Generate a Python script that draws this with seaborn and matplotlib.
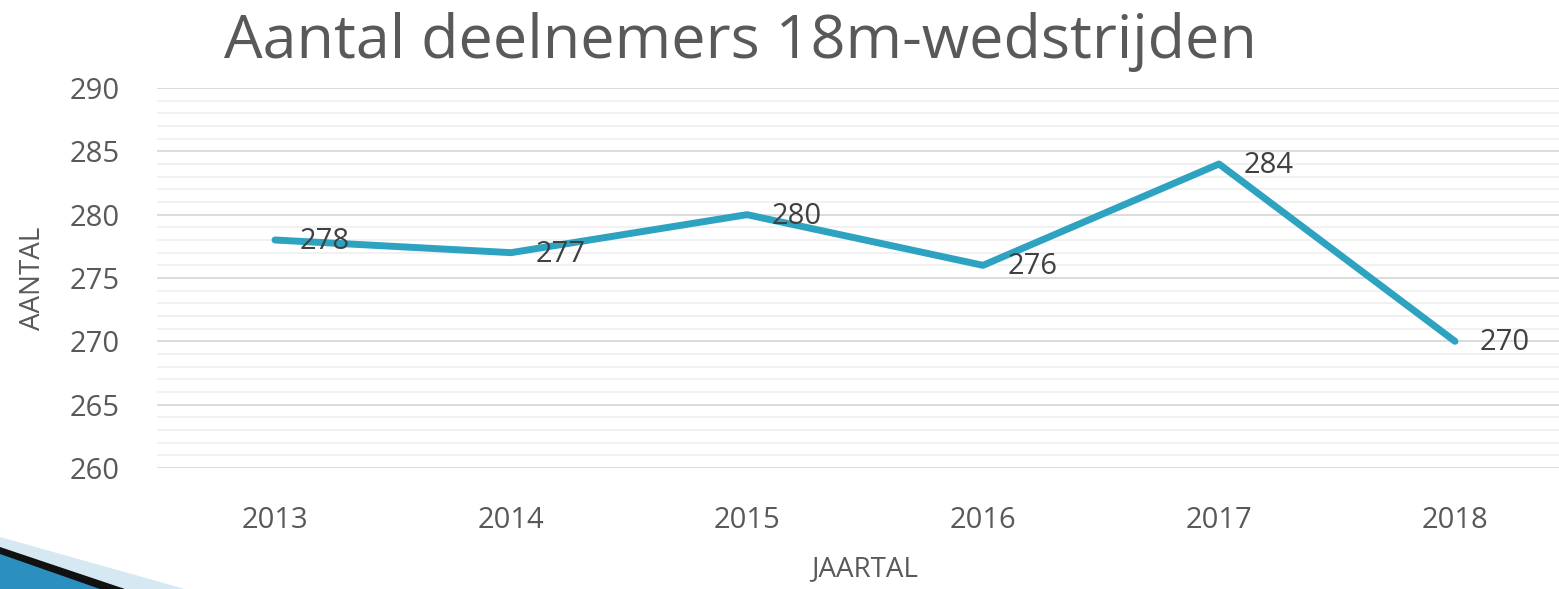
import matplotlib
matplotlib.use("Agg")
import matplotlib.pyplot as plt
import seaborn as sns
import pandas as pd
from matplotlib.patches import Polygon
from matplotlib.ticker import MultipleLocator

years = ["2013", "2014", "2015", "2016", "2017", "2018"]
deelnemers = [278, 277, 280, 276, 284, 270]

df = pd.DataFrame({"jaar": years, "aantal": deelnemers})

sns.set_theme(style="white")
plt.rcParams["font.family"] = ["Open Sans", "DejaVu Sans"]

fig = plt.figure(figsize=(15.59, 5.89), dpi=100)
ax = fig.add_axes([157 / 1559, 1 - 468 / 589, (1573 - 157) / 1559, (468 - 88) / 589])

line_color = "#2ea3c1"
sns.lineplot(data=df, x="jaar", y="aantal", ax=ax, color=line_color,
             linewidth=5, solid_capstyle="round", solid_joinstyle="round", zorder=3)

# data labels right of each point
for i, v in enumerate(deelnemers):
    ax.annotate(str(v), (i, v), xytext=(18, -1), textcoords="offset points",
                ha="left", va="center", fontsize=21, color="#404040", zorder=4)

ax.set_xlim(-0.5, 5.5)
ax.set_ylim(260, 290)
ax.yaxis.set_major_locator(MultipleLocator(5))
ax.yaxis.set_minor_locator(MultipleLocator(1))
ax.grid(which="major", axis="y", color="#d9d9d9", linewidth=1.3)
ax.grid(which="minor", axis="y", color="#f0f0f0", linewidth=1.3)
ax.set_axisbelow(True)
for s in ax.spines.values():
    s.set_visible(False)
ax.tick_params(axis="both", which="both", length=0, labelsize=21, colors="#595959")
ax.tick_params(axis="x", pad=27)
ax.tick_params(axis="y", pad=27)

ax.set_xlabel("JAARTAL", fontsize=20, color="#595959", labelpad=15)
ax.set_ylabel("AANTAL", fontsize=20, color="#595959", labelpad=16)

fig.text(740 / 1559, 1 - 42 / 589, "Aantal deelnemers 18m-wedstrijden",
         ha="center", va="center", fontsize=44, color="#595959")

# decoration bottom-left
fig.patches.append(Polygon([(0, 0), (0, 52), (185, 0)], closed=True,
                           transform=None, facecolor="#d6e9f2", edgecolor="none"))
fig.patches.append(Polygon([(0, 0), (0, 42), (125, 0)], closed=True,
                           transform=None, facecolor="#111111", edgecolor="none"))
fig.patches.append(Polygon([(0, 0), (0, 35), (100, 0)], closed=True,
                           transform=None, facecolor="#2b8fc0", edgecolor="none"))

fig.savefig("out.png", dpi=100)
